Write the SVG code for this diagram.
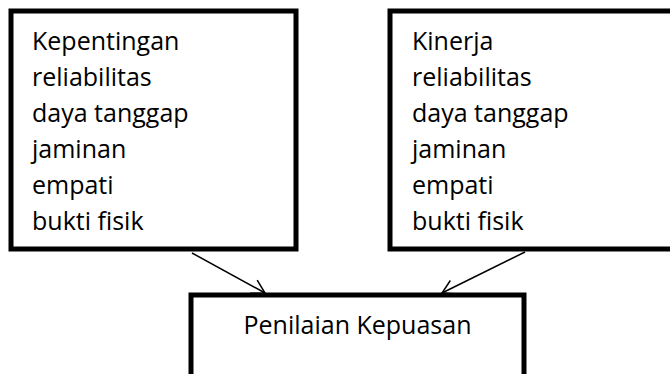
<svg xmlns="http://www.w3.org/2000/svg" width="670" height="374" viewBox="0 0 670 374">
<defs>
<style>
.box{fill:#fff;stroke:#000;stroke-width:5;stroke-linejoin:miter}
.t{font-family:"Open Sans","Liberation Sans",sans-serif;font-size:25px;fill:#000}
.c{fill:none;stroke:#000;stroke-width:1.5}
</style>
<marker id="arr" markerUnits="userSpaceOnUse" orient="auto" overflow="visible" refX="0" refY="0" markerWidth="1" markerHeight="1">
<path d="M-13,-7.5 L0,0 L-13,7.5" fill="none" stroke="#000" stroke-width="1.5"/>
</marker>
</defs>
<rect width="670" height="374" fill="#fff"/>
<g id="connectors">
<line class="c" x1="192" y1="253" x2="265" y2="293" marker-end="url(#arr)"/>
<line class="c" x1="525" y1="252" x2="442" y2="293" marker-end="url(#arr)"/>
</g>
<g id="kepentingan">
<rect class="box" x="11" y="11" width="285" height="238"/>
<text class="t" x="32" y="50">Kepentingan</text>
<text class="t" x="32" y="86">reliabilitas</text>
<text class="t" x="32" y="122">daya tanggap</text>
<text class="t" x="32" y="158">jaminan</text>
<text class="t" x="32" y="194">empati</text>
<text class="t" x="32" y="230">bukti fisik</text>
</g>
<g id="kinerja">
<rect class="box" x="390" y="11" width="300" height="238"/>
<text class="t" x="412" y="50">Kinerja</text>
<text class="t" x="412" y="86">reliabilitas</text>
<text class="t" x="412" y="122">daya tanggap</text>
<text class="t" x="412" y="158">jaminan</text>
<text class="t" x="412" y="194">empati</text>
<text class="t" x="412" y="230">bukti fisik</text>
</g>
<g id="penilaian">
<rect class="box" x="191" y="295" width="333" height="100"/>
<text class="t" x="357.5" y="334" text-anchor="middle">Penilaian Kepuasan</text>
</g>
</svg>
